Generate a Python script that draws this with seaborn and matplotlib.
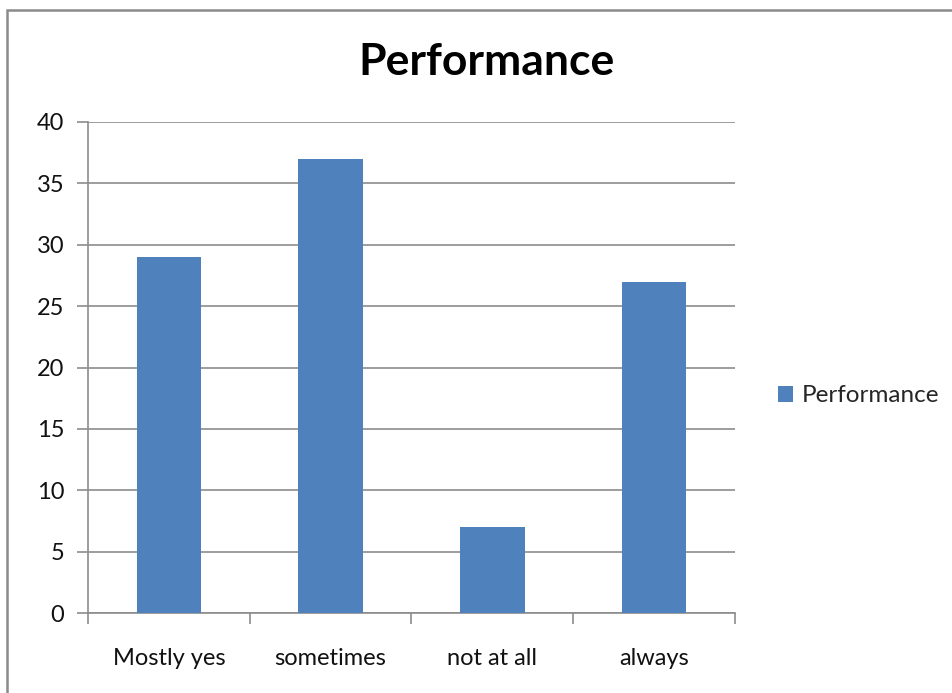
import matplotlib
matplotlib.use("Agg")
import matplotlib.pyplot as plt
import seaborn as sns
import pandas as pd
from matplotlib.patches import Rectangle, Patch

categories = ["Mostly yes", "sometimes", "not at all", "always"]
values = [29, 37, 7, 27]
series_name = "Performance"
y_ticks = [0, 5, 10, 15, 20, 25, 30, 35, 40]

sns.set_theme(style="white")
plt.rcParams["font.family"] = ["Lato", "DejaVu Sans"]

grid_color = "#8c8c8c"
bar_color = "#4f81bd"

df = pd.DataFrame({"category": categories, "value": values})

fig = plt.figure(figsize=(9.53, 6.93), dpi=100)
ax = fig.add_axes([88 / 953, 1 - 613 / 693, (735 - 88) / 953, (613 - 122) / 693])

sns.barplot(data=df, x="category", y="value", color=bar_color, width=0.4,
            saturation=1, linewidth=0, edgecolor="none", ax=ax, zorder=3)

ax.set_xlim(-0.5, len(categories) - 0.5)
ax.set_ylim(0, 40)
ax.set_yticks(y_ticks)
ax.set_yticklabels([str(t) for t in y_ticks], fontsize=17, color="#111111")
ax.set_xticks(range(len(categories)))
ax.set_xticklabels(categories, fontsize=17, color="#111111")
ax.set_xticks([i - 0.5 for i in range(len(categories) + 1)], minor=True)
ax.tick_params(axis="x", which="major", length=0, pad=25, bottom=True)
ax.tick_params(axis="x", which="minor", length=8, width=1.2, color=grid_color,
               direction="out", bottom=True)
ax.tick_params(axis="y", which="major", length=8, width=1.2, color=grid_color,
               direction="out", pad=9, left=True)
ax.set_xlabel("")
ax.set_ylabel("")

ax.yaxis.grid(True, color=grid_color, linewidth=1.2, zorder=0)
ax.set_axisbelow(True)
for side in ["top", "right"]:
    ax.spines[side].set_visible(False)
for side in ["left", "bottom"]:
    ax.spines[side].set_color(grid_color)
    ax.spines[side].set_linewidth(1.2)

fig.text(486 / 953, 1 - 62 / 693, "Performance", ha="center", va="center",
         fontsize=32, fontweight="bold", color="#000000")

handle = Patch(facecolor=bar_color, edgecolor="none", label=series_name)
fig.legend(handles=[handle], loc="center left", bbox_to_anchor=(778 / 953, 1 - 396 / 693),
           frameon=False, fontsize=17.5, handlelength=0.62, handleheight=0.62,
           handletextpad=0.35, borderaxespad=0, borderpad=0)

# outer chart-area frame
fig.add_artist(Rectangle((7 / 953, -0.1), 1.2, 1 - 10 / 693 + 0.1,
                         transform=fig.transFigure, fill=False,
                         edgecolor="#8a8a8a", linewidth=1.8, clip_on=False))

fig.savefig("out.png", dpi=100, facecolor="white")
